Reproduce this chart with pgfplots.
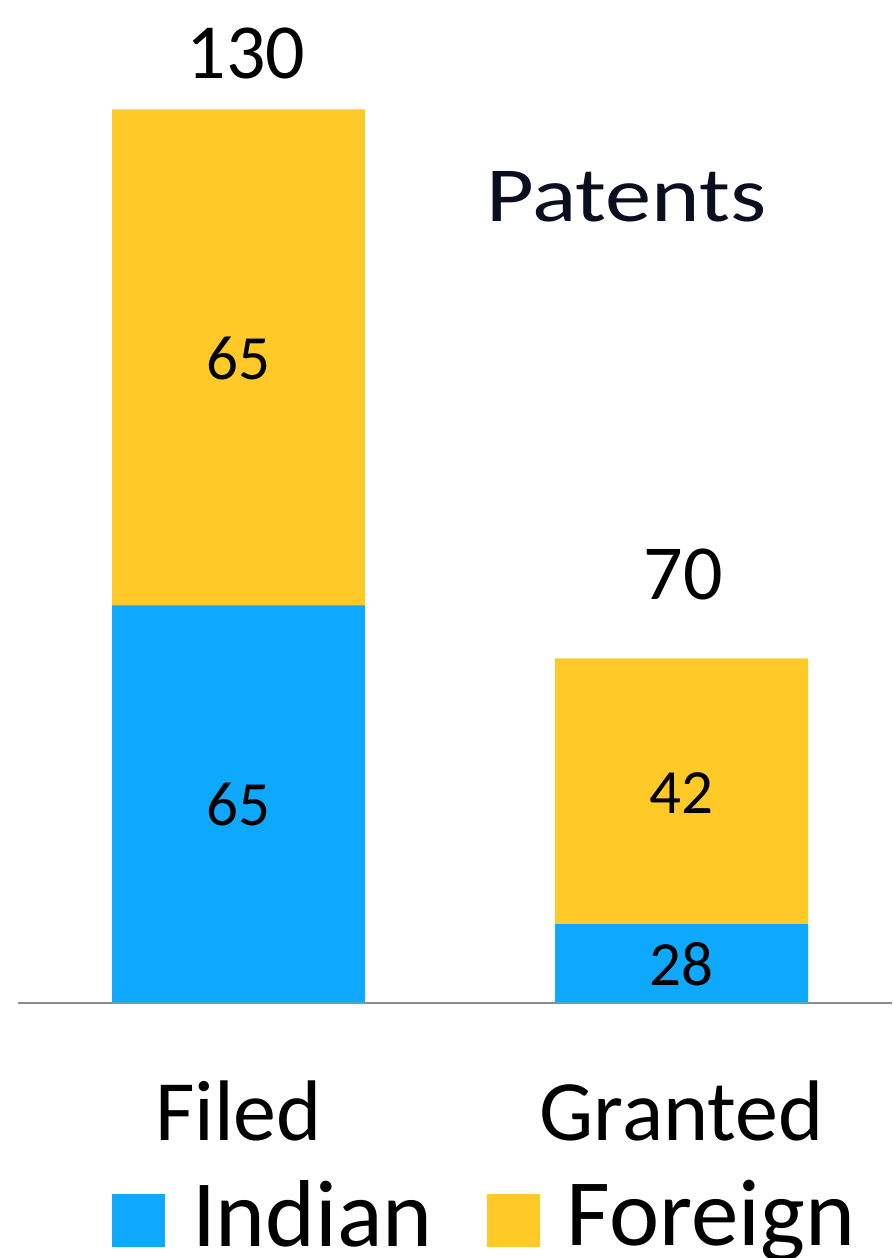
\documentclass[border=0pt]{standalone}
\usepackage{graphicx}
\usepackage{pgfplots}
\pgfplotsset{compat=1.18}
\usepackage{fontspec}
\setmainfont{Carlito}
\definecolor{indianblue}{RGB}{14,169,255}
\definecolor{foreignyellow}{RGB}{255,202,40}
\definecolor{titlenavy}{RGB}{10,14,30}
\begin{document}
\begin{tikzpicture}
\path[use as bounding box] (0,0) rectangle (892pt,1258pt);
\begin{axis}[
  at={(18pt,255.5pt)}, anchor=south west,
  scale only axis, width=874pt, height=893pt,
  xmin=18, xmax=892, ymin=0, ymax=130,
  enlargelimits=false,
  clip=false,
  axis x line=bottom, axis y line=none,
  x axis line style={-, draw=gray!90, line width=2pt},
  xtick={238.5,681.5}, xticklabels={Filed,Granted},
  major tick length=0pt,
  ytick=\empty,
  xticklabel style={font=\fontsize{86}{88}\selectfont, anchor=base, yshift=-138pt, inner sep=0pt},
  legend columns=2,
  reverse legend,
  legend style={at={(axis cs:112,-35.6)}, anchor=south west, draw=none, fill=none,
    inner sep=0pt, outer sep=0pt,
    nodes={inner sep=0pt, text depth=0pt},
    font=\fontsize{95}{95}\selectfont,
    /tikz/every odd column/.append style={column sep=27pt},
    /tikz/every even column/.append style={column sep=54pt}},
  sqlegend/.style={legend image code/.code={\fill[##1] (0pt,-34pt) rectangle (53pt,19pt);}},
]
% totals (drawn first, full height), Indian overlaid on the bottom part
\addplot[ybar, bar width=253pt, fill=foreignyellow, draw=none, sqlegend]
  coordinates {(238.5,130) (681.5,50.1)};
\addlegendentry{Foreign}
\addplot[ybar, bar width=253pt, fill=indianblue, draw=none, sqlegend]
  coordinates {(238.5,57.8) (681.5,11.4)};
\addlegendentry{Indian}
% segment labels
\addplot[draw=none, mark=none, forget plot, nodes near coords, point meta=explicit symbolic,
  every node near coord/.append style={anchor=base, inner sep=0pt, text=black, font=\fontsize{63}{63}\selectfont}]
  coordinates {(238.5,90.7)[65] (238.5,25.77)[65] (681.5,27.51)[42] (681.5,2.47)[28]};
% total labels
\addplot[draw=none, mark=none, forget plot, nodes near coords, point meta=explicit symbolic,
  every node near coord/.append style={anchor=base, inner sep=0pt, text=black, font=\fontsize{78}{78}\selectfont}]
  coordinates {(246,134.5)[130] (683,58.67)[70]};
\node[anchor=base, inner sep=0pt, text=titlenavy] at (axis cs:626.5,113.7) {\resizebox{280pt}{50pt}{Patents}};
\end{axis}
\end{tikzpicture}
\end{document}
